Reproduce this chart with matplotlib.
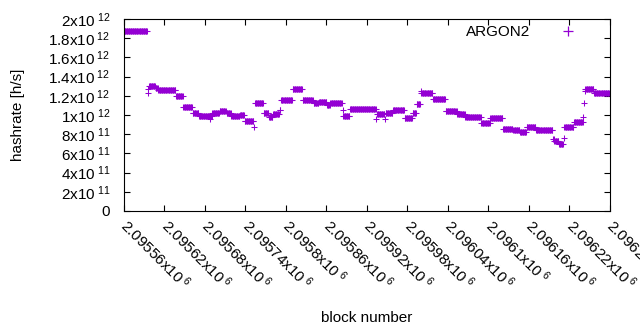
import numpy as np
import matplotlib
matplotlib.use('Agg')
import matplotlib.pyplot as plt
from matplotlib.lines import Line2D

# ---- data ----
block_base = 2095560
block_count = 720
# run-length encoded hashrate: block offset where a run starts, value in 1e12 h/s
run_start = [0, 35, 36, 37, 47, 51, 77, 88, 102, 111, 127, 128, 131, 142, 152,
             159, 172, 179, 193, 194, 207, 215, 221, 231, 233, 250, 265, 281,
             289, 301, 306, 324, 325, 335, 374, 375, 387, 388, 399, 416, 428,
             434, 440, 441, 458, 477, 494, 506, 530, 543, 562, 577, 587, 597,
             611, 636, 638, 645, 652, 653, 667, 681, 682, 683, 684, 697]
run_value = [1.872, 1.232, 1.27, 1.30, 1.28, 1.257, 1.195, 1.08, 1.018, 0.986,
             0.955, 0.986, 1.02, 1.04, 1.02, 0.99, 1.0, 0.934, 0.87, 1.12,
             1.018, 0.98, 1.007, 1.05, 1.16, 1.268, 1.16, 1.13, 1.14, 1.107,
             1.12, 1.05, 0.99, 1.06, 0.955, 1.007, 0.955, 1.024, 1.05, 0.97,
             1.024, 1.11, 1.25, 1.23, 1.167, 1.04, 1.01, 0.98, 0.913, 0.97,
             0.857, 0.84, 0.82, 0.875, 0.84, 0.75, 0.734, 0.70, 0.76, 0.875,
             0.93, 0.98, 1.12, 1.247, 1.274, 1.226]
series_name = "ARGON2"

x_ticks = list(range(2095560, 2096281, 60))
y_ticks = [0, 2e11, 4e11, 6e11, 8e11, 1e12, 1.2e12, 1.4e12, 1.6e12, 1.8e12, 2e12]
y_labels = ["0", "2x10$^{\\ 11}$", "4x10$^{\\ 11}$", "6x10$^{\\ 11}$",
            "8x10$^{\\ 11}$", "1x10$^{\\ 12}$", "1.2x10$^{\\ 12}$",
            "1.4x10$^{\\ 12}$", "1.6x10$^{\\ 12}$", "1.8x10$^{\\ 12}$",
            "2x10$^{\\ 12}$"]

lengths = np.diff(run_start + [block_count])
blocks = block_base + np.arange(block_count)
hashrate = np.repeat(np.array(run_value) * 1e12, lengths)

# ---- drawing ----
plt.rcParams['font.family'] = ['Liberation Sans', 'DejaVu Sans']
plt.rcParams['mathtext.fontset'] = 'custom'
plt.rcParams['mathtext.rm'] = 'Liberation Sans'
plt.rcParams['mathtext.it'] = 'Liberation Sans'
plt.rcParams['mathtext.default'] = 'regular'

FS = 11
W, H = 640, 330
fig = plt.figure(figsize=(W / 100, H / 100), dpi=100)
L, R, T, B = 124, 609.6, 19, 211
ax = fig.add_axes([L / W, 1 - B / H, (R - L) / W, (B - T) / H])

color = '#9400D3'
ax.plot(blocks, hashrate, linestyle='none', marker='+', markersize=4.8,
        markeredgewidth=0.75, color=color, label=series_name)

ax.set_xlim(2095560, 2096280)
ax.set_ylim(0, 2e12)
ax.set_xticks(x_ticks)
ax.set_xticklabels([f"{v / 1e6:.6g}x10$^{{\\ 6}}$" for v in x_ticks],
                   rotation=-45, ha='left', va='center', rotation_mode='anchor')
ax.set_yticks(y_ticks)
ax.set_yticklabels(y_labels)
ax.tick_params(direction='in', length=4.5, width=0.8, top=True, right=True,
               labelsize=FS, colors='black')
ax.tick_params(axis='x', pad=8)
ax.tick_params(axis='y', pad=10)
for s in ax.spines.values():
    s.set_linewidth(0.8)

ax.set_ylabel("hashrate [h/s]", fontsize=FS)
ax.yaxis.set_label_coords((25 - L) / (R - L), 0.5)
ax.set_xlabel("block number", fontsize=FS)
ax.xaxis.set_label_coords(0.5, (B - 311) / (B - T))

handle = Line2D([], [], linestyle='none', marker='+', markersize=6.5,
                markeredgewidth=0.9, color=color)
ax.legend([handle], [series_name], loc='upper right', frameon=False,
          markerfirst=False, handlelength=2.8, handletextpad=1.05,
          borderpad=0, borderaxespad=0, fontsize=FS, numpoints=1,
          bbox_to_anchor=(589 / W, 1 - 25 / H), bbox_transform=fig.transFigure)

fig.savefig('out.png', dpi=100)
